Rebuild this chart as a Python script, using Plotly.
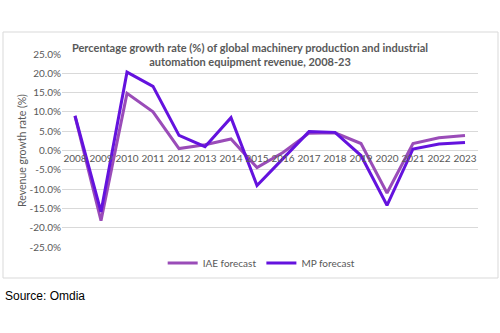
import plotly.graph_objects as go

years = [str(y) for y in range(2008, 2024)]
iae = [8.9, -18.2, 14.8, 10.0, 0.5, 1.5, 3.0, -4.4, -0.5, 4.5, 4.6, 1.8, -11.0, 1.8, 3.3, 3.9]
mp = [9.0, -15.9, 20.3, 16.6, 3.9, 1.0, 8.5, -9.1, -2.1, 4.9, 4.7, -1.3, -14.2, 0.4, 1.7, 2.1]
yticks = [-25, -20, -15, -10, -5, 0, 5, 10, 15, 20, 25]
ytick_text = [f"{v:.1f}%" for v in yticks]

gray = "#595959"
fig = go.Figure()
fig.add_trace(go.Scatter(x=years, y=iae, mode="lines", name="IAE forecast",
                         line=dict(color="#9A4CB8", width=3)))
fig.add_trace(go.Scatter(x=years, y=mp, mode="lines", name="MP forecast",
                         line=dict(color="#6412DE", width=3)))

fig.update_layout(
    width=500, height=333,
    margin=dict(l=62, r=22, t=54, b=86),
    paper_bgcolor="white", plot_bgcolor="white",
    font=dict(family="Lato", size=10, color=gray),
    title=dict(text="<b>Percentage growth rate (%) of global machinery production and industrial<br>automation equipment revenue, 2008-23</b>",
               x=0.5, xanchor="center", xref="container",
               y=1 - 52 / 333, yanchor="top", yref="container",
               font=dict(family="Lato", size=11, color=gray)),
    xaxis=dict(type="category", range=[-0.5, 15.5], anchor="free", position=0.5, showgrid=False,
               showline=False, ticks="", tickfont=dict(size=10, color=gray),
               zeroline=False),
    yaxis=dict(range=[-25, 25], tickvals=yticks, ticktext=ytick_text,
               showgrid=True, gridcolor="#d9d9d9", gridwidth=1, zeroline=False,
               ticks="", tickfont=dict(size=10, color=gray),
               title=dict(text="Revenue growth rate (%)", font=dict(size=10.5, color=gray), standoff=0)),
    legend=dict(orientation="h", x=0.48, xanchor="center", y=-0.083, yanchor="middle",
                font=dict(size=10, color=gray), itemwidth=30, bgcolor="rgba(0,0,0,0)"),
    showlegend=True,
)

fig.add_shape(type="rect", xref="paper", yref="paper",
              x0=(3 - 62) / 416, x1=(498 - 62) / 416,
              y0=(247 - 278) / 193, y1=(247 - 32) / 193,
              line=dict(color="#d9d9d9", width=1), fillcolor="rgba(0,0,0,0)", layer="below")

fig.add_annotation(text="Source: Omdia", xref="paper", yref="paper",
                   x=(3 - 62) / 416, xanchor="left", y=(247 - 296) / 193, yanchor="middle",
                   showarrow=False, font=dict(family="Liberation Sans", size=12, color="black"))

fig.write_html("out.html")
